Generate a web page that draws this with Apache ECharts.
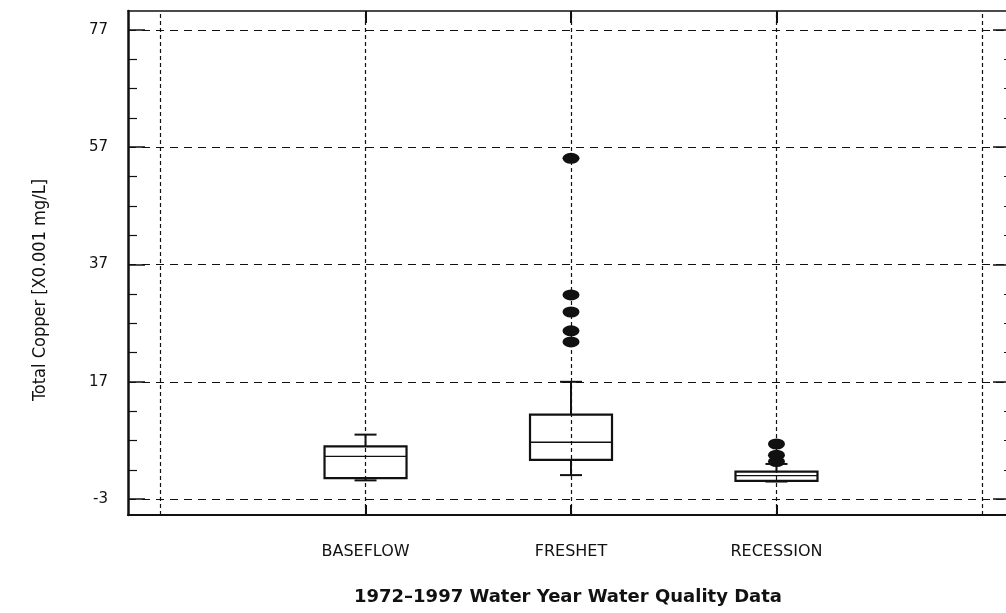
<!DOCTYPE html>
<html>
<head>
<meta charset="utf-8">
<script src="https://cdn.jsdelivr.net/npm/echarts@6/dist/echarts.min.js"></script>
<style>
  html, body { margin: 0; padding: 0; background: #fff; }
  #chart { width: 1006px; height: 613px; }
</style>
</head>
<body>
<div id="chart"></div>
<script>
// Total copper by flow season, 1972-1997 (box = quartiles, whiskers, outliers)
const categories = ['BASEFLOW', 'FRESHET', 'RECESSION'];
const categoryPos = [1, 2, 3];
const lowWhisker = [0.2, 1.1, 0.0];
const lowerQuartile = [0.6, 3.7, 0.1];
const median = [4.3, 6.7, 1.0];
const upperQuartile = [6.0, 11.4, 1.7];
const highWhisker = [8.0, 17.0, 3.0];
const outlierCategory = [2, 2, 2, 2, 2, 3, 3, 3];
const outlierValue = [55.1, 31.8, 28.9, 25.7, 23.8, 6.4, 4.5, 3.4];

const majorTicks = [-3, 17, 37, 57, 77];
const minorTicks = [2, 7, 12, 22, 27, 32, 42, 47, 52, 62, 67, 72];
const verticalGrid = [0, 1, 2, 3, 4];

const yLabel = 'Total Copper [X0.001 mg/L]';
const xTitle = '1972\u20131997 Water Year Water Quality Data';

const boxData = categoryPos.map((c, i) =>
  [c, lowWhisker[i], lowerQuartile[i], median[i], upperQuartile[i], highWhisker[i]]);
const outlierData = outlierCategory.map((c, i) => [c, outlierValue[i]]);

const BOX_HALF = 41;
const CAP_HALF = 11;
const INK = '#111';

function renderBox(params, api) {
  const x = api.value(0);
  const p = (v) => api.coord([x, v]);
  const lo = p(api.value(1)), q1 = p(api.value(2)), md = p(api.value(3)),
        q3 = p(api.value(4)), hi = p(api.value(5));
  const cx = lo[0];
  const line = (x1, y1, x2, y2, w) => ({
    type: 'line',
    shape: { x1, y1, x2, y2 },
    style: { stroke: INK, lineWidth: w }
  });
  return {
    type: 'group',
    children: [
      line(cx, q3[1], cx, hi[1], 2),
      line(cx - CAP_HALF, hi[1], cx + CAP_HALF, hi[1], 2),
      line(cx, q1[1], cx, lo[1], 2),
      line(cx - CAP_HALF, lo[1], cx + CAP_HALF, lo[1], 2),
      {
        type: 'rect',
        shape: { x: cx - BOX_HALF, y: q3[1], width: BOX_HALF * 2, height: q1[1] - q3[1] },
        style: { fill: 'none', stroke: INK, lineWidth: 2.2 }
      },
      line(cx - BOX_HALF, md[1], cx + BOX_HALF, md[1], 1.3)
    ]
  };
}

// the frame runs past the right edge of the page, so the x range ends at the page edge
const yMin = -5.7, yMax = 80.2;
const xMin = -0.156, xMax = 4.117;

const chart = echarts.init(document.getElementById('chart'), null, { renderer: 'canvas' });

const xBase = {
  type: 'value', min: xMin, max: xMax,
  splitLine: { show: false },
  axisLine: { show: true, onZero: false, lineStyle: { color: INK, width: 2 } }
};
const yBase = {
  type: 'value', min: yMin, max: yMax,
  splitLine: { show: false }
};

chart.setOption({
  animation: false,
  backgroundColor: '#fff',
  grid: { left: 128, right: 0, top: 11, bottom: 98, show: false },
  xAxis: [
    Object.assign({}, xBase, {
      position: 'bottom',
      axisTick: { show: true, inside: true, length: 10, customValues: categoryPos,
                  lineStyle: { color: INK, width: 2 } },
      axisLabel: { show: true, customValues: categoryPos, margin: 29,
                   formatter: (v) => categories[Math.round(v) - 1] || '',
                   color: INK, fontFamily: 'DejaVu Sans', fontSize: 16 }
    }),
    Object.assign({}, xBase, {
      position: 'top',
      axisLine: { show: true, onZero: false, lineStyle: { color: INK, width: 1.5 } },
      axisTick: { show: true, inside: true, length: 12, customValues: categoryPos,
                  lineStyle: { color: INK, width: 2 } },
      axisLabel: { show: false }
    })
  ],
  yAxis: [
    Object.assign({}, yBase, {
      position: 'left',
      axisLine: { show: true, onZero: false, lineStyle: { color: INK, width: 2.5 } },
      axisTick: { show: true, inside: true, length: 17, customValues: majorTicks,
                  lineStyle: { color: INK, width: 1.5 } },
      axisLabel: { show: true, customValues: majorTicks, margin: 20,
                   color: INK, fontFamily: 'DejaVu Sans', fontSize: 15 }
    }),
    Object.assign({}, yBase, {
      position: 'left',
      axisLine: { show: false, onZero: false },
      axisTick: { show: true, inside: true, length: 9, customValues: minorTicks,
                  lineStyle: { color: INK, width: 1.2 } },
      axisLabel: { show: false }
    }),
    Object.assign({}, yBase, {
      position: 'right',
      axisLine: { show: false, onZero: false },
      axisTick: { show: true, inside: true, length: 13, customValues: majorTicks,
                  lineStyle: { color: INK, width: 1.5 } },
      axisLabel: { show: false }
    }),
    Object.assign({}, yBase, {
      position: 'right',
      axisLine: { show: false, onZero: false },
      axisTick: { show: true, inside: true, length: 2, customValues: minorTicks,
                  lineStyle: { color: INK, width: 1.2 } },
      axisLabel: { show: false }
    })
  ],
  series: [
    {
      type: 'custom',
      xAxisIndex: 0, yAxisIndex: 0,
      renderItem: renderBox,
      data: boxData,
      z: 5,
      markLine: {
        silent: true, symbol: 'none', label: { show: false },
        lineStyle: { color: INK, type: [8, 6], width: 1.2 },
        data: majorTicks.map((v) => ({ yAxis: v }))
      }
    },
    {
      type: 'scatter',
      xAxisIndex: 0, yAxisIndex: 0,
      data: outlierData,
      symbol: 'circle',
      symbolSize: [17, 11],
      itemStyle: { color: INK, opacity: 1 },
      z: 6,
      markLine: {
        silent: true, symbol: 'none', label: { show: false },
        lineStyle: { color: INK, type: [4, 3], width: 1.2 },
        data: verticalGrid.map((v) => ({ xAxis: v }))
      }
    }
  ],
  graphic: [
    {
      type: 'text', x: 40, y: 290, rotation: Math.PI / 2,
      style: { text: yLabel, fill: INK, font: '18px "Liberation Sans Narrow", "DejaVu Sans Condensed", sans-serif',
               align: 'center', verticalAlign: 'middle' }
    },
    {
      type: 'text', x: 568, y: 597,
      style: { text: xTitle, fill: INK, font: 'bold 18px "DejaVu Sans", sans-serif',
               align: 'center', verticalAlign: 'middle' }
    }
  ]
});
</script>
</body>
</html>
